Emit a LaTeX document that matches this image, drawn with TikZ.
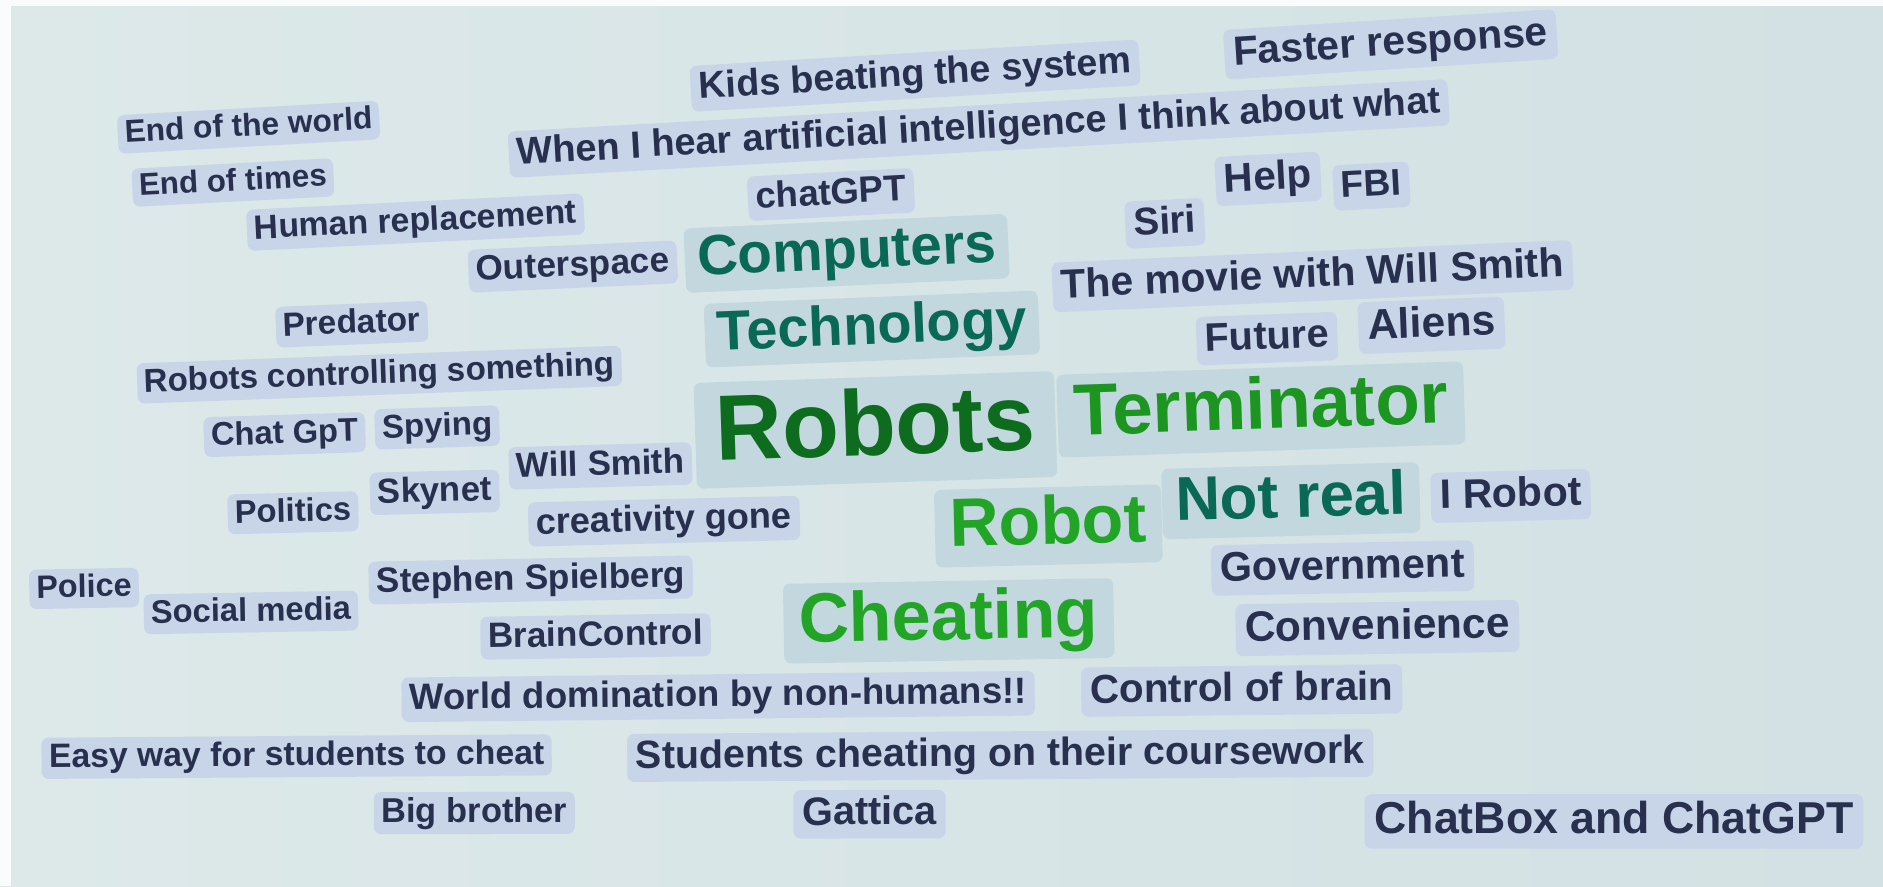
\documentclass[tikz,border=0pt]{standalone}
\usepackage{fontspec}
\setmainfont{Liberation Sans}
\usepackage{xcolor}
\usetikzlibrary{positioning}
\definecolor{screen}{RGB}{221,233,233}
\definecolor{screenright}{RGB}{211,225,228}
\definecolor{boxblue}{RGB}{200,212,231}
\definecolor{greenbox}{RGB}{194,216,222}
\definecolor{ink}{RGB}{40,48,78}
\definecolor{darkgreen}{RGB}{14,108,30}
\definecolor{midgreen}{RGB}{28,150,32}
\definecolor{litegreen}{RGB}{34,165,38}
\definecolor{teal}{RGB}{10,104,86}
\tikzset{
x=0.12mm, y=-0.12mm, % one unit is one pixel of the photo
word/.style={fill=boxblue, text=ink, rounded corners=2pt,
  font=\fontsize{#1pt}{#1pt}\selectfont\bfseries,
  inner xsep=0.22*#1pt, inner ysep=0.14*#1pt,
  text height=0.74*#1pt, text depth=0.2*#1pt}, % a grey-blue word box
hot/.style={word=#1, fill=greenbox, inner ysep=0.1*#1pt}, % the big green words
}

\begin{document}
\begin{tikzpicture}
\useasboundingbox (0,0) rectangle (1568,738);
\shade[left color=screen, right color=screenright] (0,0) rectangle (1568,738);
\fill[white!85!screen] (0,0) rectangle (9,738);
\fill[white!85!screen] (0,0) rectangle (1568,5);
% top rows
\node[word=10.7, rotate=3.4] (kids) at (762,63) {Kids beating the system};
\node[word=11.6, rotate=3.6] (faster) at (1158,37) {Faster response};
\node[word=9.0, rotate=3.2] (endworld) at (207,106) {End of the world};
\node[word=10.8, rotate=3.2] (hearai) at (815,107) {When I hear artificial intelligence I think about what};
\node[word=8.9, rotate=3.0] (endtimes) at (194,152) {End of times};
\node[word=10.4, rotate=3.0] (chatgpt) at (692,162) {chatGPT};
\node[word=11.5, rotate=3.0] (help) at (1056,149) {Help};
\node[word=10.6, rotate=3.0] (fbi) at (1142,155) {FBI};
\node[word=9.6, rotate=2.8] (human) at (346,185) {Human replacement};
\node[word=11.0, rotate=2.8] (siri) at (970,186) {Siri};
\node[word=10.0, rotate=2.6] (outer) at (477,222) {Outerspace};
\node[hot=16.1, text=teal, rotate=2.6] (computers) at (705,211) {Computers};
\node[word=11.6, rotate=2.5] (movie) at (1093,230) {The movie with Will Smith};
\node[word=9.5, rotate=2.3] (predator) at (293,270) {Predator};
\node[hot=15.9, text=teal, rotate=2.3] (techno) at (726,274) {Technology};
\node[word=11.3, rotate=2.2] (future) at (1055,282) {Future};
\node[word=12.1, rotate=2.2] (aliens) at (1192,271) {Aliens};
% middle rows
\node[word=9.4, rotate=2.1] (robctrl) at (316,312) {Robots controlling something};
\node[hot=26.4, text=darkgreen, rotate=1.9] (robots) at (729,358) {Robots};
\node[hot=20.7, text=midgreen, rotate=1.9] (terminator) at (1050,341) {Terminator};
\node[word=9.3, rotate=1.8] (chatgpt2) at (237,362) {Chat GpT};
\node[word=9.4, rotate=1.8] (spying) at (364,356) {Spying};
\node[word=9.9, rotate=1.6] (willsmith) at (500,388) {Will Smith};
\node[word=9.3, rotate=1.4] (politics) at (244,427) {Politics};
\node[word=9.9, rotate=1.4] (skynet) at (362,410) {Skynet};
\node[word=10.3, rotate=1.4] (creativity) at (553,434) {creativity gone};
\node[hot=19.4, text=litegreen, rotate=1.4] (robot) at (873,438) {Robot};
\node[hot=17.6, text=teal, rotate=1.5] (notreal) at (1075,417) {Not real};
\node[word=11.7, rotate=1.5] (irobot) at (1258,413) {I Robot};
\node[word=9.2, rotate=1.1] (police) at (70,490) {Police};
\node[word=9.3, rotate=1.0] (social) at (209,510) {Social media};
\node[word=10.0, rotate=1.1] (spielberg) at (442,483) {Stephen Spielberg};
\node[word=11.8, rotate=1.1] (govt) at (1118,473) {Government};
\node[word=10.0, rotate=0.9] (brain) at (496,530) {BrainControl};
\node[hot=19.9, text=litegreen, rotate=1.0] (cheating) at (790,517) {Cheating};
\node[word=12.1, rotate=0.9] (convenience) at (1147,523) {Convenience};
% bottom rows
\node[word=10.4, rotate=0.6] (domination) at (598,580) {World domination by non-humans!!};
\node[word=11.5, rotate=0.6] (ctrlbrain) at (1034,575) {Control of brain};
\node[word=9.6, rotate=0.4] (easyway) at (247,630) {Easy way for students to cheat};
\node[word=11.2, rotate=0.4] (students) at (833,629) {Students cheating on their coursework};
\node[word=9.8, rotate=0.1] (bigbro) at (395,677) {Big brother};
\node[word=11.3, rotate=0.1] (gattica) at (724,678) {Gattica};
\node[word=12.7] (chatbox) at (1344,684) {ChatBox and ChatGPT};
\end{tikzpicture}
\end{document}
